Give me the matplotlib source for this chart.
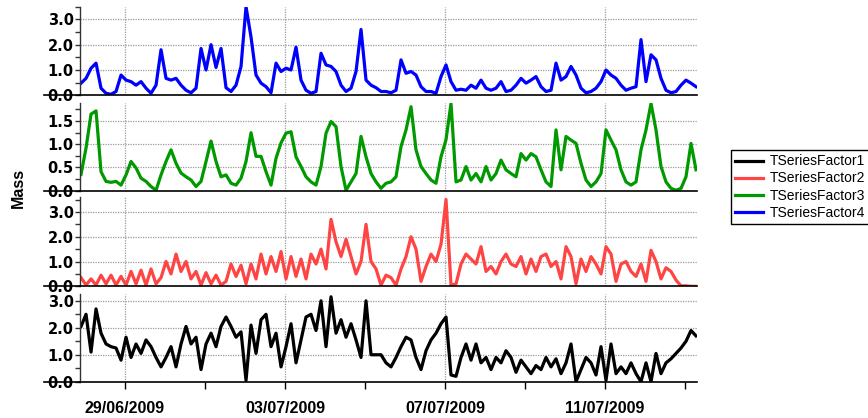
import matplotlib
matplotlib.use('Agg')
import matplotlib.pyplot as plt
import matplotlib.dates as mdates
from matplotlib.ticker import MultipleLocator, FormatStrFormatter
import pandas as pd

# time base: 3-hourly points
start = '2009-06-27 21:36'
n_points = 124

factor4 = [0.48, 0.67, 1.07, 1.27, 0.28, 0.08, 0.04, 0.15, 0.8, 0.6,
           0.54, 0.4, 0.54, 0.28, 0.08, 0.4, 1.8, 0.67, 0.6, 0.67,
           0.4, 0.2, 0.1, 0.28, 1.85, 1.0, 2.0, 1.1, 1.85, 0.3,
           0.15, 0.4, 1.14, 3.5, 2.3, 0.8, 0.48, 0.34, 0.1, 1.27,
           0.94,
           1.07, 1.0, 1.9, 0.6, 0.2, 0.08, 0.15, 1.66, 1.2, 1.14,
           0.94, 0.4, 0.15, 0.28, 0.94, 2.6, 0.6, 0.4, 0.3, 0.15,
           0.15, 0.1, 0.2, 1.4, 0.87, 0.94, 0.8, 0.34, 0.15, 0.15,
           0.08, 0.74, 1.2, 0.54, 0.2, 0.24, 0.2, 0.4, 0.28, 0.6,
           0.28, 0.2, 0.28, 0.54, 0.15, 0.2, 0.4, 0.67, 0.48, 0.6,
           0.74, 0.34, 0.15, 0.2, 1.27, 0.6, 0.74, 1.14, 0.8, 0.28,
           0.1, 0.15, 0.28, 0.54, 1.0, 0.8, 0.67, 0.4, 0.2, 0.28,
           0.34, 2.2, 0.54, 1.6, 1.4, 0.67, 0.2, 0.1, 0.15, 0.4,
           0.6, 0.48, 0.34]

factor3 = [0.35, 0.92, 1.65, 1.72, 0.41, 0.2, 0.18, 0.2, 0.12, 0.34,
           0.63, 0.49, 0.27, 0.2, 0.09, 0.01, 0.34, 0.63, 0.88, 0.59,
           0.38, 0.3, 0.23, 0.09, 0.2, 0.63, 1.07, 0.63, 0.3, 0.34,
           0.16, 0.12, 0.27, 0.63, 1.25, 0.74, 0.74, 0.41, 0.12, 0.7,
           1.03,
           1.24, 1.27, 0.73, 0.52, 0.3, 0.19, 0.12, 0.52, 1.24, 1.49,
           1.38, 0.52, 0.01, 0.19, 0.37, 1.17, 0.73, 0.37, 0.19, 0.05,
           0.16, 0.19, 0.3, 0.95, 1.31, 1.81, 0.88, 0.52, 0.37, 0.23,
           0.16, 0.73, 1.1, 1.88, 0.19, 0.23, 0.52, 0.23, 0.37, 0.19,
           0.52, 0.23, 0.37, 0.66, 0.45, 0.37, 0.3, 0.8, 0.66, 0.8,
           0.73, 0.45, 0.19, 0.09, 1.31, 0.45, 1.17, 1.09, 1.02, 0.59,
           0.23, 0.09, 0.19, 0.37, 1.31, 1.09, 0.88, 0.45, 0.19, 0.12,
           0.19, 0.88, 1.31, 1.88, 1.31, 0.52, 0.19, 0.05, 0.01, 0.05,
           0.3, 1.02, 0.45]

factor2 = [0.35, 0.05, 0.3, 0.05, 0.45, 0.1, 0.45, 0.05, 0.4, 0.05,
           0.6, 0.1, 0.65, 0.05, 0.7, 0.1, 0.35, 1.0, 0.5, 1.3,
           0.6, 1.0, 0.3, 0.6, 0.05, 0.55, 0.1, 0.45, 0.05, 0.2,
           0.9, 0.4, 0.85, 0.1, 0.9, 0.3, 1.3, 0.5, 1.2, 0.6,
           1.4,
           0.3, 1.2, 0.4, 1.1, 0.3, 1.3, 0.9, 1.5, 0.7, 2.7,
           1.8, 1.2, 1.9, 1.2, 0.5, 1.0, 2.5, 1.0, 0.7, 0.05,
           0.45, 0.35, 0.05, 0.7, 1.2, 2.0, 1.5, 0.2, 0.8, 1.3,
           1.0, 1.7, 3.5, 0.05, 0.1, 0.9, 1.3, 1.1, 0.9, 1.6,
           0.6, 0.8, 0.5, 1.0, 1.3, 0.9, 0.8,
           1.2, 0.5, 1.1, 0.6, 1.2, 1.3, 0.8, 1.0, 0.3, 1.6,
           1.2, 0.1, 1.1, 0.6, 1.2, 0.9, 0.5, 1.6, 1.3, 0.2,
           0.9, 1.0, 0.6, 0.4, 0.9, 0.2, 1.45, 1.0, 0.3, 0.75,
           0.6, 0.25, 0.02, 0.02, 0.0, 0.0]

factor1 = [2.05, 2.5, 1.1, 2.7, 1.8, 1.4, 1.3, 1.25, 0.8, 1.65,
           0.9, 1.4, 1.05, 1.55, 1.3, 0.9, 0.55, 0.9, 1.3, 0.55,
           1.4, 2.05, 1.4, 1.65, 0.45, 1.4, 1.8, 1.3, 2.05, 2.4,
           2.05, 1.65, 1.85, 0.05, 2.1, 1.05, 2.3, 2.5, 1.3, 1.8,
           0.55,
           1.3, 2.15, 0.7, 1.55, 2.4, 2.5, 1.9, 3.0, 1.3, 3.15,
           1.8, 2.3, 1.65, 2.15, 1.55, 0.9, 3.0, 1.0, 1.0, 1.0,
           0.7, 0.55, 0.9, 1.3, 1.65, 1.55, 0.9, 0.45, 1.15, 1.55,
           1.8, 2.15, 2.4, 0.25, 0.2, 0.9, 1.4, 0.8, 1.4, 0.7,
           0.9, 0.45, 0.9, 0.7, 1.15, 0.9, 0.35,
           0.8, 0.55, 0.3, 0.6, 0.45, 0.9, 0.55, 0.85, 0.3, 0.7,
           1.4, 0.0, 0.45, 0.9, 0.7, 0.25, 1.3, 0.05, 1.4, 0.3,
           0.55, 0.3, 0.7, 0.3, 0.0, 0.7, 0.0, 1.05, 0.3, 0.7,
           0.85, 1.05, 1.25, 1.5, 1.9, 1.7]

names = ['TSeriesFactor1', 'TSeriesFactor2', 'TSeriesFactor3', 'TSeriesFactor4']
colors = ['#000000', '#ff4444', '#009900', '#0000ff']

times = pd.date_range(start, periods=n_points, freq='3h')

# panels from top to bottom: factor4, factor3, factor2, factor1
panels = [
    (factor4, 3, 3.5, 1.0, 0.5, [0.0922, 0.772, 0.7108, 0.212]),
    (factor3, 2, 1.89, 0.5, 0.25, [0.0922, 0.5438, 0.7108, 0.2098]),
    (factor2, 1, 3.6, 1.0, 0.5, [0.0922, 0.315, 0.7108, 0.2136]),
    (factor1, 0, 3.24, 1.0, 0.5, [0.0922, 0.0868, 0.7108, 0.209]),
]

fig = plt.figure(figsize=(8.68, 4.18), dpi=100)
handles = {}

for k, (vals, idx, ytop, major, minor, pos) in enumerate(panels):
    ax = fig.add_axes(pos)
    line, = ax.plot(times, vals, color=colors[idx], linewidth=2.3, label=names[idx])
    handles[idx] = line

    ax.set_xlim(pd.Timestamp('2009-06-27 21:00'), pd.Timestamp('2009-07-13 07:12'))
    ax.set_ylim(0, ytop)

    ax.xaxis.set_major_locator(mdates.DayLocator(bymonthday=[3, 7, 11, 29]))
    ax.xaxis.set_minor_locator(mdates.DayLocator(bymonthday=[1, 5, 9, 13]))
    ax.xaxis.set_major_formatter(mdates.DateFormatter('%d/%m/%Y'))
    ax.yaxis.set_major_locator(MultipleLocator(major))
    ax.yaxis.set_minor_locator(MultipleLocator(minor))
    ax.yaxis.set_major_formatter(FormatStrFormatter('%.1f'))

    ax.grid(True, which='major', color='#9a9a9a', linestyle=(0, (1, 1)), linewidth=0.9)
    ax.set_axisbelow(True)

    for s in ['top', 'right']:
        ax.spines[s].set_visible(False)
    ax.spines['left'].set_color('#333333')
    ax.spines['left'].set_linewidth(1.0)
    ax.spines['bottom'].set_color('#000000')
    ax.spines['bottom'].set_linewidth(1.2)

    # zero line runs on through the 0.0 label
    ax.plot([-0.058, 0], [0, 0], transform=ax.get_yaxis_transform(),
            color='black', linewidth=1.2, clip_on=False)

    ax.tick_params(axis='y', which='both', direction='out', length=3.5, width=1,
                   color='#333333', pad=1)
    for lab in ax.get_yticklabels():
        lab.set_fontfamily('DejaVu Sans')
        lab.set_fontweight('bold')
        lab.set_fontsize(10.5)

    if k < 3:
        ax.tick_params(axis='x', which='both', bottom=False, labelbottom=False)
    else:
        ax.tick_params(axis='x', which='both', direction='out', length=5, width=1, pad=9)
        for lab in ax.get_xticklabels():
            lab.set_fontfamily('Liberation Sans')
            lab.set_fontweight('bold')
            lab.set_fontsize(11.5)

fig.text(0.021, 0.55, 'Mass', rotation=90, ha='center', va='center',
         fontsize=11.5, fontweight='bold', family='Liberation Sans')

leg = fig.legend([handles[i] for i in range(4)], names,
                 loc='center', bbox_to_anchor=(0.9217, 0.5526),
                 prop={'family': 'Liberation Sans', 'size': 10},
                 fancybox=False, edgecolor='black', framealpha=1,
                 handlelength=2.0, handletextpad=0.5, labelspacing=0.22,
                 borderpad=0.3, borderaxespad=0)
leg.get_frame().set_linewidth(1.0)

fig.savefig('out.png', dpi=100)
